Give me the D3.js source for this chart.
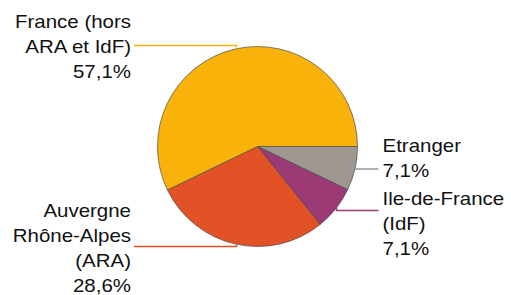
<!DOCTYPE html>
<html>
<head>
<meta charset="utf-8">
<title>pie</title>
<script src="https://cdn.jsdelivr.net/npm/d3@7/dist/d3.min.js"></script>
<style>
  body { margin: 0; background: #fff; }
  text { font-family: "Liberation Sans", Arial, sans-serif; font-size: 18.6px; fill: #111; }
</style>
</head>
<body>
<div id="container"></div>
<script>
const w = 511, h = 295;

// slices in drawing order, clockwise from 3 o'clock
const categories = ['Etranger', 'Ile-de-France (IdF)', 'Auvergne Rhône-Alpes (ARA)', 'France (hors ARA et IdF)'];
const values = [7.1, 7.1, 28.6, 57.1];
const colors = ['#9e9791', '#9b3a75', '#e35226', '#f8b20a'];
const labelLines = [
    ['Etranger', '7,1%'],
    ['Ile-de-France', '(IdF)', '7,1%'],
    ['Auvergne', 'Rhône-Alpes', '(ARA)', '28,6%'],
    ['France (hors', 'ARA et IdF)', '57,1%']
];

const svg = d3.select('#container').append('svg')
    .attr('width', w).attr('height', h);

const cx = 257.5, cy = 146.5, r = 100;
const main = svg.append('g').attr('transform', `translate(${cx},${cy})`);

const data = categories.map((c, i) => ({name: c, value: values[i], color: colors[i], lines: labelLines[i]}));

const pie = d3.pie().sort(null).value(d => d.value)
    .startAngle(Math.PI / 2).endAngle(Math.PI / 2 + 2 * Math.PI);
const arc = d3.arc().innerRadius(0).outerRadius(r);

const arcs = pie(data);

main.selectAll('path.slice').data(arcs).enter().append('path')
    .attr('class', 'slice')
    .attr('d', arc)
    .style('fill', d => d.data.color)
    .style('stroke', '#4a4a4a')
    .style('stroke-width', 0.7);

// label placement: side, leader line y, text anchor x, first baseline
const lab = [
    {side: 'r', ly: 169, tx: 382.5, ty: 151.7},
    {side: 'r', ly: 210.5, tx: 382.5, ty: 205},
    {side: 'l', ly: 246.5, tx: 131, ty: 216.7},
    {side: 'l', ly: 45.5, tx: 131, ty: 28.3}
];
const lh = 25;

arcs.forEach((a, i) => {
    const L = lab[i];
    const mid = (a.startAngle + a.endAngle) / 2;
    // point on the arc near where the leader meets it
    let px, py;
    if (i === 3) { px = 236.5 - cx; py = 47.5 - cy; }
    else if (i === 2) { px = 236.5 - cx; py = 245 - cy; }
    else if (i === 1) { px = 336.5 - cx; py = 206.5 - cy; }
    else { px = r * Math.sin(mid) - 3; py = L.ly - cy; }
    const ex = L.side === 'r' ? L.tx - 4 - cx : L.tx + 3 - cx;
    const ly = L.ly - cy;
    main.append('path')
        .attr('d', `M${px},${py}L${px},${ly}L${ex},${ly}`)
        .style('fill', 'none')
        .style('stroke', a.data.color)
        .style('stroke-width', 1.5);

    // text is slightly wider than plain Arial in the original
    const t = svg.append('text')
        .attr('transform', `translate(${L.tx},0) scale(1.1,1)`)
        .attr('text-anchor', L.side === 'r' ? 'start' : 'end');
    a.data.lines.forEach((s, j) => {
        t.append('tspan').attr('x', 0).attr('y', L.ty + j * lh).text(s);
    });
});
</script>
</body>
</html>
